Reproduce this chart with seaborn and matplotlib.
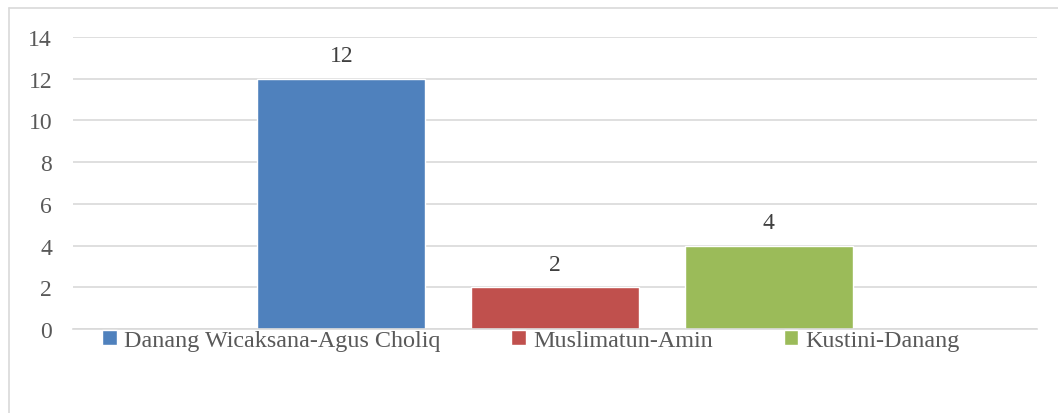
import matplotlib
matplotlib.use("Agg")
import matplotlib.pyplot as plt
import seaborn as sns
import pandas as pd

series = ["Danang Wicaksana-Agus Choliq", "Muslimatun-Amin", "Kustini-Danang"]
values = [12, 2, 4]
colors = ["#4F81BD", "#C0504D", "#9BBB59"]
yticks = [0, 2, 4, 6, 8, 10, 12, 14]

sns.set_theme(style="white")
plt.rcParams['font.family'] = ['Liberation Serif', 'DejaVu Serif']

df = pd.DataFrame({"cat": ["x"] * 3, "series": series, "value": values})

fig = plt.figure(figsize=(10.58, 4.14), dpi=100)
ax = fig.add_axes([73 / 1058, 1 - 330 / 414, (1037 - 73) / 1058, (330 - 38) / 414])

sns.barplot(data=df, x="cat", y="value", hue="series", hue_order=series,
            palette=colors, width=0.6645, gap=0.213, ax=ax, saturation=1,
            legend=True)

FS = 17
ax.set_xlim(-0.5, 0.5)
ax.set_ylim(0, 14)
ax.set_yticks(yticks)
ax.set_yticklabels([str(t) for t in yticks])
ax.yaxis.grid(True, color="#D9D9D9", linewidth=1.2)
ax.set_axisbelow(True)
for s in ["top", "right", "left"]:
    ax.spines[s].set_visible(False)
ax.spines["bottom"].set_color("#D9D9D9")
ax.spines["bottom"].set_linewidth(1.2)
ax.set_xlabel("")
ax.set_ylabel("")
ax.set_xticks([])
ax.tick_params(axis="y", length=0, pad=15, labelsize=FS, labelcolor="#595959")

for cont in ax.containers:
    ax.bar_label(cont, fmt="%d", padding=9, fontsize=FS, color="#404040")

legend_cx = (531 - 73) / (1037 - 73)
leg = ax.legend(loc="upper center", bbox_to_anchor=(legend_cx, 0.07), ncol=3,
                frameon=False, fontsize=FS, handlelength=0.62, handleheight=0.62,
                handletextpad=0.3, columnspacing=3.0, labelcolor="#595959")
for t in leg.get_texts():
    t.set_fontsize(17.4)

# outer chart border (top and left visible)
fig.add_artist(plt.Line2D([8.5 / 1058, 1.0], [1 - 8.5 / 414, 1 - 8.5 / 414],
                          transform=fig.transFigure, color="#D9D9D9", linewidth=1.2))
fig.add_artist(plt.Line2D([8.5 / 1058, 8.5 / 1058], [0.0, 1 - 8.5 / 414],
                          transform=fig.transFigure, color="#D9D9D9", linewidth=1.2))

fig.savefig("out.png", dpi=100)
